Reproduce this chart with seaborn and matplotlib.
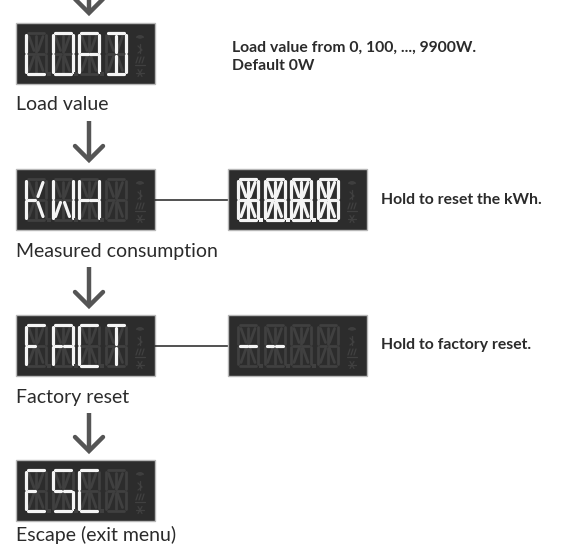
"""
Menu flow diagram: 14-segment display screens with captions and notes.
"""

import numpy as np
import matplotlib
matplotlib.use("Agg")
import matplotlib.pyplot as plt
from matplotlib.collections import LineCollection
from matplotlib.patches import Rectangle, Arc
import seaborn as sns

# ---------------------------------------------------------------------------
# Data
# ---------------------------------------------------------------------------
screens = ["LOAD", "KWH", "FACT", "ESC"]
captions = ["Load value", "Measured consumption", "Factory reset",
            "Escape (exit menu)"]
reset_screens = [None, "8.8.8.8", "--", None]
notes = ["Load value from 0, 100, ..., 9900W.\nDefault 0W",
         "Hold to reset the kWh.",
         "Hold to factory reset.",
         None]

# 14-segment letter map
SEGMENTS = {
    "L": "fed", "O": "abcdef", "A": "abcefGg", "D": "abcdil",
    "K": "fegjm", "W": "fekmbc", "H": "fegGbc", "F": "afeg",
    "C": "afed", "T": "ail", "E": "afedg", "S": "afgGcd",
    "8": "abcdefgGhijklm", "-": "gG", " ": "",
}

# ---------------------------------------------------------------------------
# Styling
# ---------------------------------------------------------------------------
BG_DISPLAY = "#2c2c2c"
BORDER = "#b8b8b8"
LIT = "#f4f4f4"
DIM = "#404040"
TEXT = "#2b2b2b"
ARROW = "#555555"

BOX_W, BOX_H = 139, 61
DIG_W, DIG_H = 20, 41
DIG_STEP = 26.5

sns.set_theme(style="white")
plt.rcParams["font.family"] = ["Lato", "DejaVu Sans"]


def _segment_lines(x0, y0):
    W, H = DIG_W, DIG_H
    xm, ym = x0 + W / 2, y0 + H / 2
    return {
        "a": [(x0 + 2, y0), (x0 + W - 2, y0)],
        "d": [(x0 + 2, y0 + H), (x0 + W - 2, y0 + H)],
        "f": [(x0, y0 + 2), (x0, ym - 1.5)],
        "e": [(x0, ym + 1.5), (x0, y0 + H - 2)],
        "b": [(x0 + W, y0 + 2), (x0 + W, ym - 1.5)],
        "c": [(x0 + W, ym + 1.5), (x0 + W, y0 + H - 2)],
        "g": [(x0 + 2, ym), (xm - 1.2, ym)],
        "G": [(xm + 1.2, ym), (x0 + W - 2, ym)],
        "i": [(xm, y0 + 2.5), (xm, ym - 2)],
        "l": [(xm, ym + 2), (xm, y0 + H - 2.5)],
        "h": [(x0 + 3, y0 + 3.5), (xm - 2, ym - 3)],
        "j": [(x0 + W - 3, y0 + 3.5), (xm + 2, ym - 3)],
        "k": [(xm - 2, ym + 3), (x0 + 3, y0 + H - 3.5)],
        "m": [(xm + 2, ym + 3), (x0 + W - 3, y0 + H - 3.5)],
    }


def _parse(text):
    """Split display text into (char, dot) cells, 4 cells."""
    cells = []
    for ch in text:
        if ch == "." and cells:
            cells[-1] = (cells[-1][0], True)
        else:
            cells.append((ch, False))
    while len(cells) < 4:
        cells.append((" ", False))
    return cells[:4]


def draw_display(ax, left, top, text):
    ax.add_patch(Rectangle((left, top), BOX_W, BOX_H, facecolor=BG_DISPLAY,
                           edgecolor=BORDER, linewidth=1.0, zorder=1))
    lit_segs, dim_segs = [], []
    dots_lit, dots_dim = [], []
    for n, (ch, dot) in enumerate(_parse(text)):
        x0 = left + 10 + n * DIG_STEP
        y0 = top + 10
        on = SEGMENTS.get(ch, "")
        for name, seg in _segment_lines(x0, y0).items():
            (lit_segs if name in on else dim_segs).append(seg)
        dp = (x0 + DIG_W + 3.2, y0 + DIG_H)
        if n < 3:
            (dots_lit if dot else dots_dim).append(dp)
    ax.add_collection(LineCollection(dim_segs, colors=DIM, linewidths=2.0,
                                     capstyle="round", zorder=2))
    ax.add_collection(LineCollection(lit_segs, colors=LIT, linewidths=2.3,
                                     capstyle="round", zorder=3))
    for pts, col in ((dots_dim, DIM), (dots_lit, LIT)):
        if pts:
            pts = np.array(pts)
            ax.scatter(pts[:, 0], pts[:, 1], s=6, color=col, marker="s",
                       linewidths=0, zorder=3)

    # status icons column (wifi, bluetooth, heat, snowflake)
    ix = left + 124
    for r in (3, 5.5, 8):
        ax.add_patch(Arc((ix, top + 16), r, r * 0.8, theta1=200, theta2=340,
                         color=DIM, linewidth=1.0, zorder=2))
    ax.plot([ix, ix], [top + 21, top + 30], color=DIM, lw=1.0, zorder=2)
    ax.plot([ix - 2, ix + 2, ix - 2], [top + 23, top + 27, top + 30],
            color=DIM, lw=0.9, zorder=2)
    for dx in (-3, 0, 3):
        ax.plot([ix + dx - 1, ix + dx + 1], [top + 40, top + 34],
                color=DIM, lw=0.9, zorder=2)
    ax.plot([ix - 5, ix + 5], [top + 42, top + 42], color=DIM, lw=0.9,
            zorder=2)
    for ang in (0, 60, 120):
        a = np.deg2rad(ang)
        ax.plot([ix - 4 * np.cos(a), ix + 4 * np.cos(a)],
                [top + 50 - 4 * np.sin(a), top + 50 + 4 * np.sin(a)],
                color=DIM, lw=0.9, zorder=2)


def draw_arrow(ax, x, y_start, y_tip):
    ax.plot([x, x], [y_start, y_tip - 1.5], color=ARROW, lw=3.2,
            solid_capstyle="butt", zorder=2)
    ax.plot([x - 14, x, x + 14], [y_tip - 14, y_tip, y_tip - 14],
            color=ARROW, lw=3.2, solid_joinstyle="miter", zorder=2)


fig = plt.figure(figsize=(5.67, 5.47), dpi=100)
ax = fig.add_axes([0, 0, 1, 1])
ax.set_xlim(0, 567)
ax.set_ylim(547, 0)
ax.axis("off")

tops = [23, 169, 315, 460]
LEFT = 16
RIGHT_LEFT = 228
ARROW_X = 89

for k, (scr, cap, rs, note) in enumerate(zip(screens, captions,
                                             reset_screens, notes)):
    top = tops[k]
    draw_display(ax, LEFT, top, scr)
    # keep the last caption inside the canvas
    cap_y = min(top + BOX_H + 21, 535)
    ax.text(LEFT, cap_y, cap, fontsize=14, color=TEXT,
            va="center", ha="left")
    # arrow into this screen
    if k == 0:
        draw_arrow(ax, ARROW_X, -10, top - 10)
    else:
        draw_arrow(ax, ARROW_X, tops[k - 1] + BOX_H + 37, top - 9)
    cy = top + BOX_H / 2
    if rs is not None:
        ax.plot([LEFT + BOX_W, RIGHT_LEFT], [cy, cy], color="#222222",
                lw=1.1, zorder=1)
        draw_display(ax, RIGHT_LEFT, top, rs)
        ax.text(381, cy, note, fontsize=11.3, fontweight="bold", color=TEXT,
                va="center", ha="left")
    elif note is not None:
        ax.text(232, top + 34, note, fontsize=11.3, fontweight="bold",
                color=TEXT, va="center", ha="left", linespacing=1.45)

fig.savefig("out.png", dpi=100)
